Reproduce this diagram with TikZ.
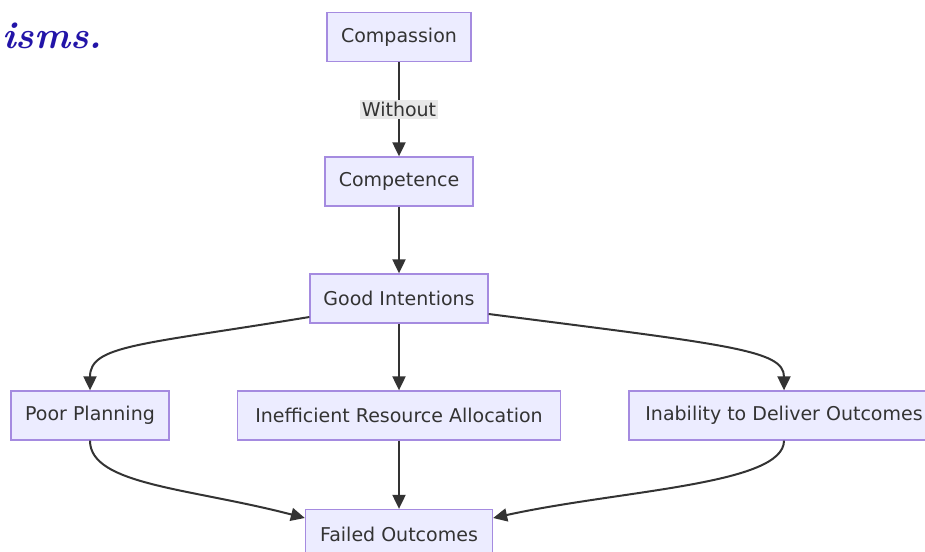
\documentclass[tikz,border=0pt]{standalone}
\usepackage{fontspec}
\setsansfont{DejaVu Sans}
\usetikzlibrary{arrows.meta}
\definecolor{boxfill}{HTML}{ECECFF}
\definecolor{boxline}{HTML}{A58BE0}
\definecolor{txt}{HTML}{333333}
\definecolor{edge}{HTML}{333333}
\definecolor{lblbg}{HTML}{E8E8E8}
\definecolor{scriptblue}{HTML}{2214A8}
\tikzset{
  box/.style={draw=boxline, fill=boxfill, line width=1.3pt, minimum height=49pt,
    inner xsep=2pt, text=txt, font=\sffamily\fontsize{19}{22}\selectfont},
  conn/.style={draw=edge, line width=2pt, -{Triangle[length=14pt,width=13pt]}},
  lbl/.style={fill=lblbg, text=txt, inner xsep=1.5pt, inner ysep=2pt, font=\sffamily\fontsize{19}{22}\selectfont}
}
\begin{document}
\begin{tikzpicture}[x=1pt,y=-1pt]
\useasboundingbox (0,0) rectangle (925,551);
\clip (0,0) rectangle (925,551);
\fill[white] (0,0) rectangle (925,551);
\node[anchor=west, text=scriptblue, font=\bfseries\itshape\fontsize{38}{42}\selectfont, inner sep=0pt] (isms) at (2,36) {isms.};
\node[box, minimum width=144pt] (comp) at (399,37) {Compassion};
\node[box, minimum width=148pt] (compet) at (399,181.5) {Competence};
\node[box, minimum width=178pt] (good) at (399,298.5) {Good Intentions};
\node[box, minimum width=158pt] (poor) at (90,415.5) {Poor Planning};
\node[box, minimum width=323pt] (ineff) at (399,415.5) {Inefficient Resource Allocation};
\node[box, minimum width=310pt] (inab) at (784,415.5) {Inability to Deliver Outcomes};
\node[box, minimum width=187pt] (fail) at (399,534) {Failed Outcomes};

\draw[conn] (comp.south) -- node[lbl] (without) {Without} (compet.north);
\draw[conn] (compet.south) -- (good.north);
\draw[conn] (good.south) -- (ineff.north);
\coordinate (gl) at (good.south west |- 0,317);
\coordinate (gr) at (good.south east |- 0,314);
\draw[conn] (gl) .. controls (140,345) and (90,345) .. (poor.north);
\draw[conn] (gr) .. controls (730,345) and (784,350) .. (inab.north);
\draw[conn] (ineff.south) -- (fail.north);
\coordinate (fl) at (fail.west |- 0,518);
\coordinate (fr) at (fail.east |- 0,518);
\draw[conn] (poor.south) .. controls (90,485) and (190,488) .. (fl);
\draw[conn] (inab.south) .. controls (784,485) and (620,490) .. (fr);
\end{tikzpicture}
\end{document}
